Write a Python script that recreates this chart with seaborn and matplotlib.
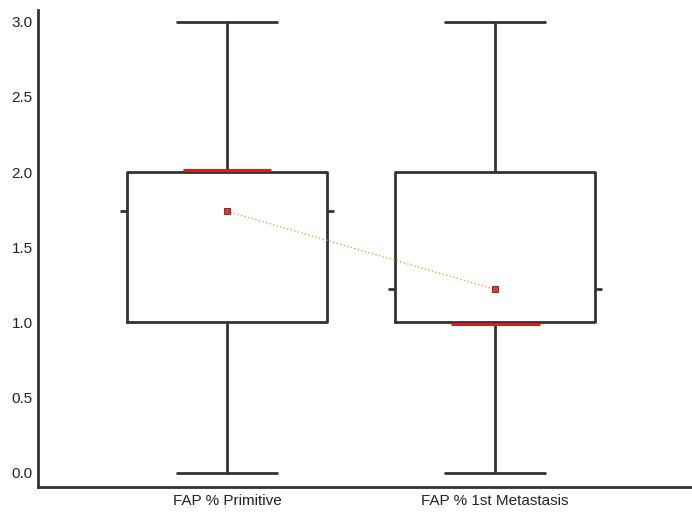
import numpy as np
import pandas as pd
import matplotlib
matplotlib.use("Agg")
import matplotlib.pyplot as plt
import matplotlib.transforms as mtransforms
import seaborn as sns

# Ordinal scores (0-3) and how many cases got each score, per sample
score_levels = [0, 1, 2, 3]
groups = ["FAP % Primitive", "FAP % 1st Metastasis"]
counts_primitive = [4, 12, 27, 7]
counts_metastasis = [7, 29, 10, 4]

df = pd.DataFrame({
    "group": np.repeat(groups, [sum(counts_primitive), sum(counts_metastasis)]),
    "score": np.concatenate([np.repeat(score_levels, counts_primitive),
                             np.repeat(score_levels, counts_metastasis)]),
})

sns.set_style("white")
plt.rcParams["font.family"] = ["Liberation Sans", "DejaVu Sans"]

dark = "#333333"
box_w = 0.746

fig = plt.figure(figsize=(6.92, 5.13), dpi=100)
ax = fig.add_axes([0.055, 0.051, 0.945, 0.93])

sns.boxplot(data=df, x="group", y="score", order=groups, width=box_w,
            fill=False, color=dark, linewidth=2, whis=1.5,
            showfliers=False, medianprops={"color": "#d02020", "linewidth": 2.2},
            ax=ax)

# shorten the median lines and nudge them off the box edge like the original
bc = ax.containers[0]
for i, line in enumerate(bc.medians):
    x = np.asarray(line.get_xdata(), dtype=float)
    c = x.mean()
    line.set_xdata([c - 0.166, c + 0.166])
    dy = 2 if i == 0 else -2
    line.set_transform(line.get_transform() +
                       mtransforms.ScaledTranslation(0, dy / 100, fig.dpi_scale_trans))
    line.set_zorder(5)

# means connected by a dotted line
sns.pointplot(data=df, x="group", y="score", order=groups, estimator="mean",
              errorbar=None, color="#f0a050", linestyles=":", markers="s",
              markersize=4, linewidth=1.0, ax=ax)
pl = ax.lines[-1]
pl.set_markerfacecolor("#d04040")
pl.set_markeredgecolor("#a02020")
pl.set_zorder(6)

# small mean ticks outside the box sides
means = df.groupby("group")["score"].mean().reindex(groups).values
for i, m in enumerate(means):
    for side in (-1, 1):
        x0 = i + side * box_w / 2
        ax.plot([x0, x0 + side * 0.026], [m, m], color=dark, lw=2,
                solid_capstyle="butt")

ax.set_xlim(-0.705, 1.735)
ax.set_ylim(-0.093, 3.08)
ax.set_yticks([0, 0.5, 1, 1.5, 2, 2.5, 3])
ax.set_yticklabels([f"{v:.1f}" for v in [0, 0.5, 1, 1.5, 2, 2.5, 3]])
ax.set_xlabel("")
ax.set_ylabel("")
sns.despine(ax=ax)
for s in ("left", "bottom"):
    ax.spines[s].set_color(dark)
    ax.spines[s].set_linewidth(2)
ax.tick_params(axis="y", direction="in", length=7, width=2, color=dark,
               labelsize=11, labelcolor="#222222", pad=4)
ax.tick_params(axis="x", length=0, labelsize=11, labelcolor="#222222", pad=5)

fig.savefig("out.png", dpi=100)
